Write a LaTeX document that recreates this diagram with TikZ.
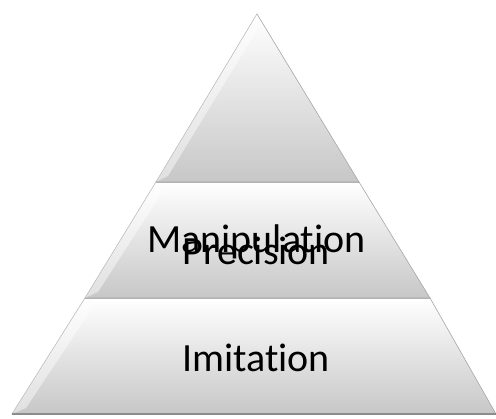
\documentclass[tikz,border=0pt]{standalone}
\usepackage{fontspec}
\setmainfont[Ligatures=NoCommon]{Carlito}
\begin{document}
\begin{tikzpicture}[x=1pt,y=-1pt,
  tier/.style={draw=black!35, line width=0.6pt, top color=white, bottom color=black!22, shading angle=0},
  bevel/.style={draw=none, fill=white, opacity=0.45},
  edge/.style={draw=black!45, line width=1.2pt},
  lbl/.style={anchor=base, inner sep=0pt, font=\fontsize{40}{40}\selectfont}]
\useasboundingbox (0,0) rectangle (496,419);
% bottom tier
\path[tier] (85,298) -- (430,298) -- (496,414) -- (12,414) -- cycle;
% middle tier
\path[tier] (156,182) -- (359,182) -- (430,298) -- (85,298) -- cycle;
% top tier
\path[tier] (257,14) -- (359,182) -- (156,182) -- cycle;
% bevel highlights (left faces)
\path[bevel] (85,298) -- (95,304) -- (26,408) -- (12,414) -- cycle;
\path[bevel] (156,182) -- (165,188) -- (98,292) -- (85,298) -- cycle;
\path[bevel] (257,14) -- (257,30) -- (168,176) -- (156,182) -- cycle;
% bottom edges
\draw[edge] (12,414) -- (496,414);
\draw[black!30, line width=0.8pt] (85,298) -- (430,298);
\draw[black!30, line width=0.8pt] (156,182) -- (359,182);
% labels
\node[lbl] (prec) at (256.5,265) {Precision};
\node[lbl] (manip) at (256.5,253) {Manipulation};
\node[lbl] (imit) at (256,372) {Imitation};
\end{tikzpicture}
\end{document}
